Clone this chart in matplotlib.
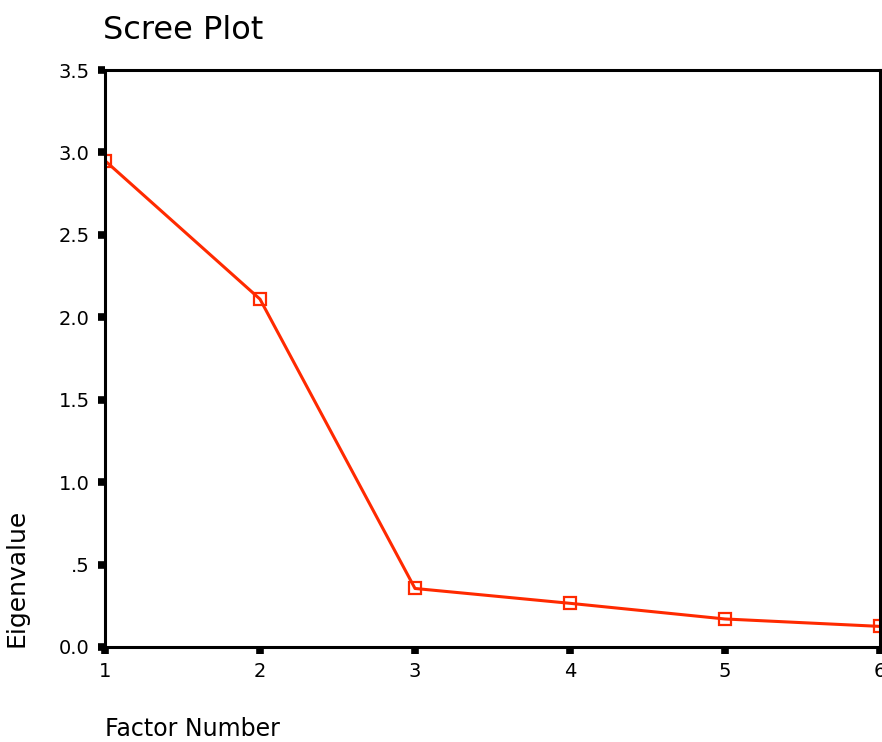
import matplotlib
matplotlib.use("Agg")
import matplotlib.pyplot as plt

factors = [1, 2, 3, 4, 5, 6]
eigenvalues = [2.95, 2.11, 0.355, 0.265, 0.17, 0.125]
yticks = [0.0, 0.5, 1.0, 1.5, 2.0, 2.5, 3.0, 3.5]
ytick_labels = ["0.0", ".5", "1.0", "1.5", "2.0", "2.5", "3.0", "3.5"]

plt.rcParams['font.family'] = ['DejaVu Sans']

fig = plt.figure(figsize=(8.82, 7.42), dpi=100)
ax = fig.add_axes([105 / 882, 95 / 742, 775 / 882, 577 / 742])

ax.plot(factors, eigenvalues, color="#ff2a00", lw=2.2, marker="s",
        markersize=8, markerfacecolor="none", markeredgecolor="#ff2a00",
        markeredgewidth=1.6, zorder=1)

ax.set_xlim(1, 6)
ax.set_ylim(0, 3.5)
ax.set_xticks(factors)
ax.set_yticks(yticks)
ax.set_yticklabels(ytick_labels)

for s in ax.spines.values():
    s.set_linewidth(2.2)
ax.tick_params(direction="out", length=5, width=5.5, labelsize=14, pad=6)

ax.set_title("Scree Plot", fontsize=23, loc="left", x=-0.003, pad=22)
ax.set_xlabel("Factor Number", fontsize=17, loc="left", labelpad=26)
ax.set_ylabel("Eigenvalue", fontsize=18, loc="bottom", labelpad=22)

fig.savefig("out.png", dpi=100)
